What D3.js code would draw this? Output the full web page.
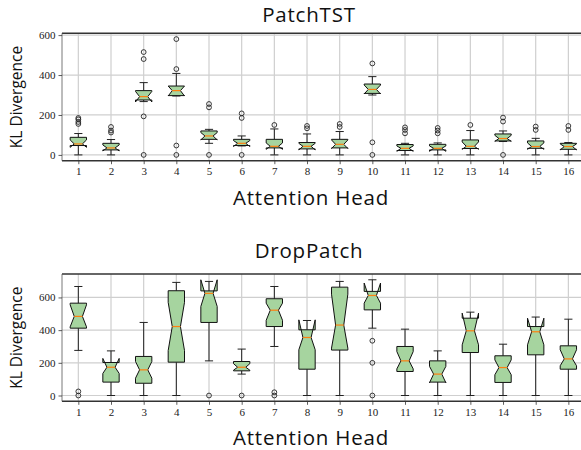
<!DOCTYPE html>
<html>
<head>
<meta charset="utf-8">
<script src="https://cdn.jsdelivr.net/npm/d3@7"></script>
<style>
  body { margin: 0; background: #fff; }
</style>
</head>
<body>
<div id="viz"></div>
<script>
const width = 581,
    height = 450;

const heads = [1, 2, 3, 4, 5, 6, 7, 8, 9, 10, 11, 12, 13, 14, 15, 16];
const yTicks = [0, 200, 400, 600];

// PatchTST box stats, one entry per head
const ptWhisLo = [0, 0, 267, 295, 58, 45, 0, 0, 0, 300, 0, 0, 0, 67, 0, 0];
const ptQ1     = [47, 25, 275, 297, 78, 47, 35, 30, 35, 308, 22, 25, 32, 70, 33, 28];
const ptCiLo   = [38, 20, 265, 295, 75, 42, 28, 25, 32, 305, 18, 18, 28, 68, 28, 25];
const ptMed    = [55, 35, 292, 322, 95, 58, 43, 43, 53, 328, 33, 33, 43, 82, 42, 42];
const ptCiHi   = [75, 50, 318, 345, 112, 72, 60, 58, 75, 350, 45, 45, 65, 98, 60, 55];
const ptQ3     = [88, 58, 322, 345, 120, 78, 78, 62, 78, 355, 52, 53, 75, 105, 70, 58];
const ptWhisHi = [107, 77, 362, 408, 128, 95, 130, 105, 117, 392, 58, 60, 122, 120, 83, 62];
const ptFliers = [[155, 165, 178, 185], [112, 122, 140], [0, 193, 480, 515], [0, 47, 430, 580],
    [0, 238, 255], [0, 185, 208], [150], [133, 145], [140, 155], [0, 63, 458],
    [108, 125, 138], [108, 122, 135], [150], [0, 167, 187], [125, 142], [125, 145]];

// DropPatch box stats
const dpWhisLo = [276, 0, 0, 0, 212, 131, 300, 0, 0, 412, 0, 0, 0, 0, 0, 0];
const dpQ1     = [412, 82, 75, 204, 447, 151, 422, 161, 278, 524, 147, 82, 263, 80, 249, 161];
const dpCiLo   = [420, 135, 106, 275, 545, 155, 460, 280, 290, 565, 163, 78, 310, 127, 310, 182];
const dpMed    = [484, 173, 157, 422, 625, 173, 522, 355, 431, 612, 212, 131, 396, 171, 390, 224];
const dpCiHi   = [555, 227, 208, 570, 708, 195, 565, 463, 620, 688, 269, 178, 504, 218, 473, 280];
const dpQ3     = [565, 202, 239, 641, 640, 208, 592, 402, 663, 637, 300, 212, 473, 243, 422, 304];
const dpWhisHi = [667, 273, 447, 692, 698, 284, 667, 459, 698, 708, 406, 273, 510, 314, 480, 467];
const dpFliers = [[0, 25], [], [], [], [0], [0], [0, 20], [], [], [0, 200, 335],
    [], [], [], [], [], []];

function buildStats(wl, q1, cl, md, ch, q3, wh, fl) {
    return heads.map((h, i) => ({
        head: h, whisLo: wl[i], q1: q1[i], ciLo: cl[i], med: md[i],
        ciHi: ch[i], q3: q3[i], whisHi: wh[i], fliers: fl[i]
    }));
}

const panels = [
    { title: "PatchTST", top: 33.3, bottom: 160.7, titleY: 21.7,
      stats: buildStats(ptWhisLo, ptQ1, ptCiLo, ptMed, ptCiHi, ptQ3, ptWhisHi, ptFliers) },
    { title: "DropPatch", top: 274, bottom: 401.3, titleY: 257.5,
      stats: buildStats(dpWhisLo, dpQ1, dpCiLo, dpMed, dpCiHi, dpQ3, dpWhisHi, dpFliers) }
];

const boxWidth = 0.5;
const plotLeft = 62, plotRight = 584.7;
const labelCenter = 309;

const svg = d3.select("#viz").append("svg")
    .attr("width", width)
    .attr("height", height);

const x = d3.scaleLinear()
    .domain([0.5, 16.5])
    .range([plotLeft, plotRight]);

panels.forEach(p => {
    // matplotlib style autoscale: data extent plus 5% margins
    let all = p.stats.flatMap(d => [d.whisLo, d.whisHi, d.ciLo, d.ciHi, d.q1, d.q3, ...d.fliers]);
    let lo = d3.min(all), hi = d3.max(all), pad = (hi - lo) * 0.05;

    let y = d3.scaleLinear()
        .domain([lo - pad, hi + pad])
        .range([p.bottom, p.top]);

    let g = svg.append("g");

    // grid
    g.append("g").selectAll("line")
        .data(heads)
        .enter().append("line")
        .attr("x1", d => x(d)).attr("x2", d => x(d))
        .attr("y1", p.top).attr("y2", p.bottom)
        .attr("stroke", "#cfcfcf").attr("stroke-width", 1.2);

    g.append("g").selectAll("line")
        .data(yTicks)
        .enter().append("line")
        .attr("x1", plotLeft).attr("x2", plotRight)
        .attr("y1", d => y(d)).attr("y2", d => y(d))
        .attr("stroke", "#cfcfcf").attr("stroke-width", 1.2);

    let box = g.append("g").selectAll("g")
        .data(p.stats)
        .enter().append("g");

    // whiskers
    box.append("line")
        .attr("x1", d => x(d.head)).attr("x2", d => x(d.head))
        .attr("y1", d => y(d.q1)).attr("y2", d => y(d.whisLo))
        .attr("stroke", "#222").attr("stroke-width", 1);
    box.append("line")
        .attr("x1", d => x(d.head)).attr("x2", d => x(d.head))
        .attr("y1", d => y(d.q3)).attr("y2", d => y(d.whisHi))
        .attr("stroke", "#222").attr("stroke-width", 1);

    // caps
    ["whisLo", "whisHi"].forEach(k => {
        box.append("line")
            .attr("x1", d => x(d.head - boxWidth * 0.25)).attr("x2", d => x(d.head + boxWidth * 0.25))
            .attr("y1", d => y(d[k])).attr("y2", d => y(d[k]))
            .attr("stroke", "#222").attr("stroke-width", 1);
    });

    // notched box, same vertex order as matplotlib
    box.append("path")
        .attr("d", d => {
            let l = d.head - boxWidth / 2, r = d.head + boxWidth / 2,
                nl = d.head - boxWidth * 0.25, nr = d.head + boxWidth * 0.25;
            let bx = [l, r, r, nr, r, r, l, l, nl, l, l],
                by = [d.q1, d.q1, d.ciLo, d.med, d.ciHi, d.q3, d.q3, d.ciHi, d.med, d.ciLo, d.q1];
            return d3.line()(bx.map((v, i) => [x(v), y(by[i])])) + "Z";
        })
        .attr("fill", "#a6d49f")
        .attr("stroke", "#111")
        .attr("stroke-width", 1);

    // median
    box.append("line")
        .attr("x1", d => x(d.head - boxWidth * 0.25)).attr("x2", d => x(d.head + boxWidth * 0.25))
        .attr("y1", d => y(d.med)).attr("y2", d => y(d.med))
        .attr("stroke", "#ff7f0e").attr("stroke-width", 1.2);

    // fliers
    box.selectAll("circle")
        .data(d => d.fliers.map(v => ({ head: d.head, v: v })))
        .enter().append("circle")
        .attr("cx", d => x(d.head))
        .attr("cy", d => y(d.v))
        .attr("r", 2.4)
        .attr("fill", "none")
        .attr("stroke", "#222")
        .attr("stroke-width", 0.9);

    // spines
    g.append("line")
        .attr("x1", plotLeft).attr("x2", plotRight)
        .attr("y1", p.top).attr("y2", p.top)
        .attr("stroke", "#333").attr("stroke-width", 1.6);
    g.append("line")
        .attr("x1", plotLeft).attr("x2", plotRight)
        .attr("y1", p.bottom).attr("y2", p.bottom)
        .attr("stroke", "#333").attr("stroke-width", 1.6);
    g.append("line")
        .attr("x1", plotLeft).attr("x2", plotLeft)
        .attr("y1", p.top).attr("y2", p.bottom)
        .attr("stroke", "#555").attr("stroke-width", 0.8);

    // axes
    let xAxis = d3.axisBottom(x).tickValues(heads).tickSize(3.5).tickPadding(3).tickFormat(d3.format("d"));
    let yAxis = d3.axisLeft(y).tickValues(yTicks).tickSize(3.5).tickPadding(3).tickFormat(d3.format("d"));

    let xa = g.append("g")
        .attr("transform", "translate(0," + p.bottom + ")")
        .call(xAxis);
    let ya = g.append("g")
        .attr("transform", "translate(" + plotLeft + ",0)")
        .call(yAxis);

    [xa, ya].forEach(a => {
        a.select(".domain").remove();
        a.selectAll(".tick line").attr("stroke", "#333").attr("stroke-width", 0.8);
        a.selectAll(".tick text")
            .attr("font-family", "'Liberation Serif', serif")
            .attr("font-size", 11)
            .attr("fill", "#222");
    });

    // labels
    g.append("text")
        .attr("x", labelCenter).attr("y", p.titleY)
        .attr("text-anchor", "middle")
        .attr("font-family", "'Open Sans', sans-serif")
        .attr("font-size", 20.5)
        .attr("letter-spacing", 0.8)
        .attr("fill", "#111")
        .text(p.title);

    g.append("text")
        .attr("x", labelCenter + 2).attr("y", p.bottom + 44)
        .attr("text-anchor", "middle")
        .attr("font-family", "'Open Sans', sans-serif")
        .attr("font-size", 20.5)
        .attr("letter-spacing", 0.8)
        .attr("fill", "#111")
        .text("Attention Head");

    g.append("text")
        .attr("transform", "translate(22," + (p.top + p.bottom) / 2 + ") rotate(-90)")
        .attr("text-anchor", "middle")
        .attr("font-family", "'Open Sans', sans-serif")
        .attr("font-size", 15.5)
        .attr("fill", "#111")
        .text("KL Divergence");
});
</script>
</body>
</html>
